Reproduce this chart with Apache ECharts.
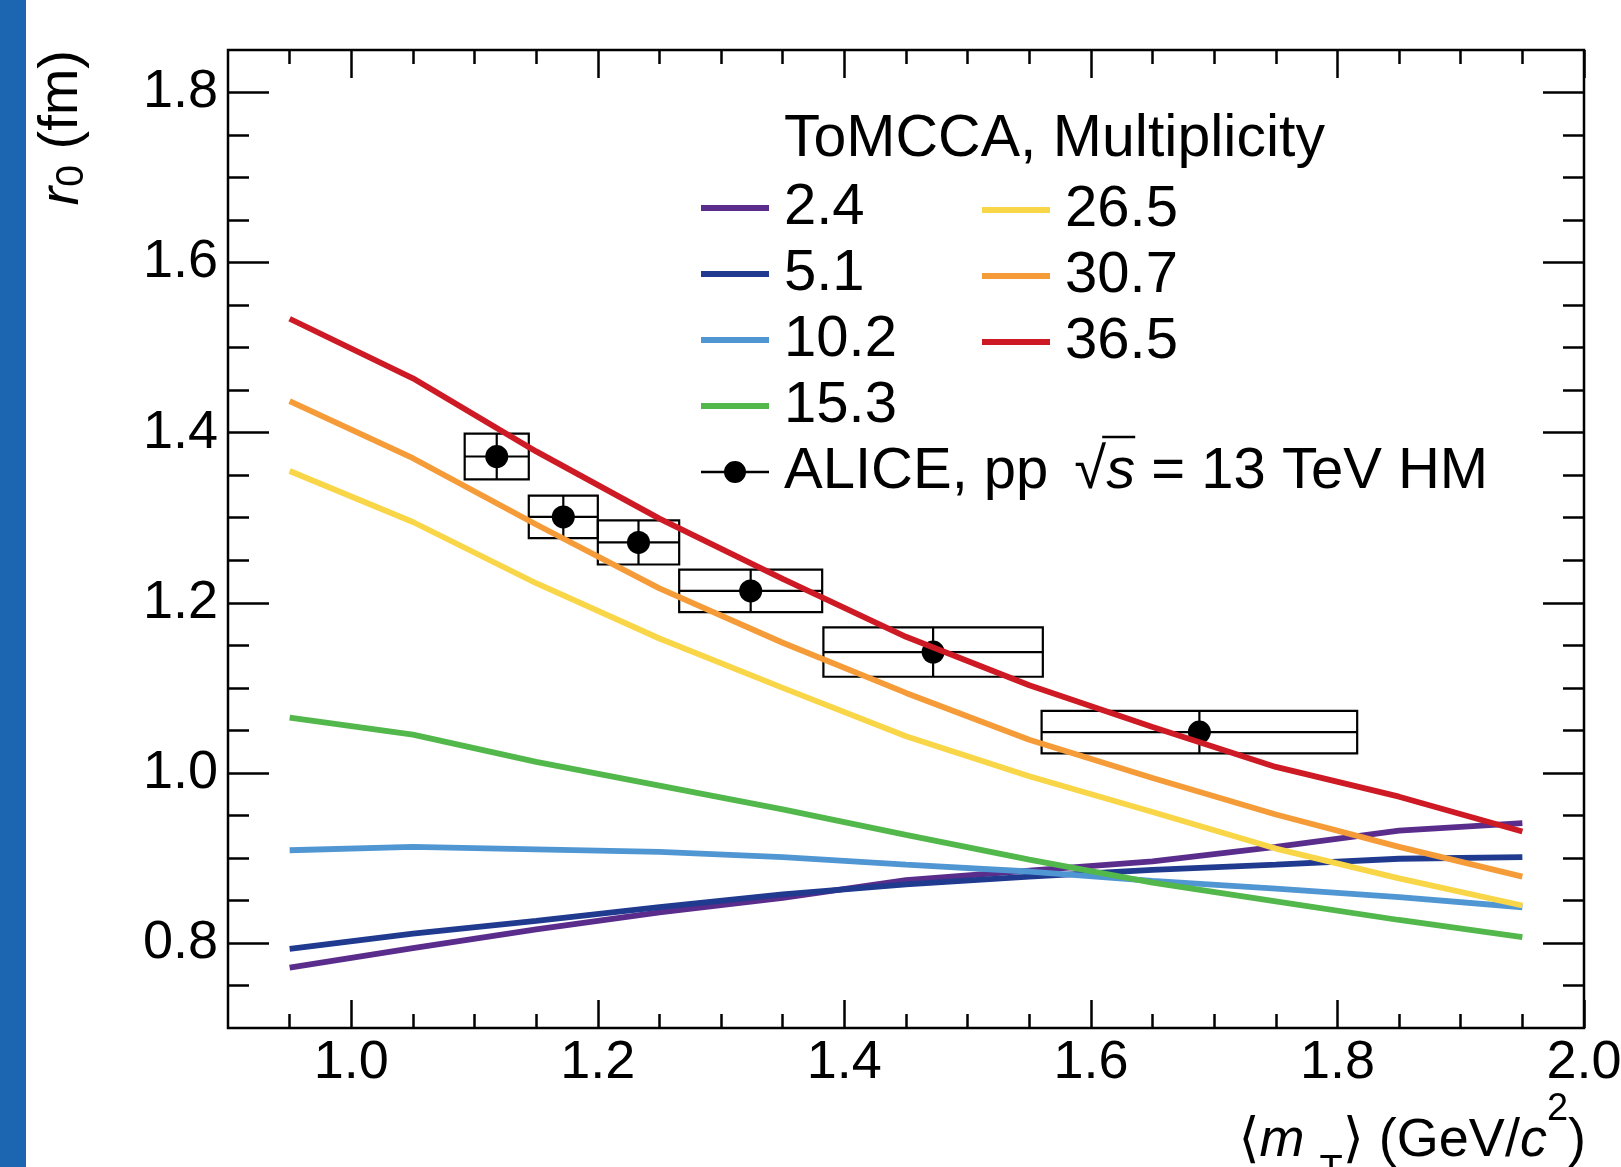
<!DOCTYPE html>
<html>
<head>
<meta charset="utf-8">
<script src="https://cdn.jsdelivr.net/npm/echarts@6/dist/echarts.min.js"></script>
<style>html,body{margin:0;padding:0;background:#fff;}#c{width:1621px;height:1167px;}</style>
</head>
<body>
<div id="c"></div>
<script>
// ---------------- data ----------------
const mtGrid = [0.95, 1.05, 1.15, 1.25, 1.35, 1.45, 1.55, 1.65, 1.75, 1.85, 1.95];
const r0Mult2p4  = [0.771, 0.794, 0.816, 0.836, 0.853, 0.874, 0.885, 0.896, 0.913, 0.932, 0.941];
const r0Mult5p1  = [0.793, 0.811, 0.826, 0.842, 0.857, 0.869, 0.878, 0.886, 0.892, 0.899, 0.901];
const r0Mult10p2 = [0.909, 0.913, 0.910, 0.907, 0.901, 0.892, 0.884, 0.873, 0.864, 0.854, 0.842];
const r0Mult15p3 = [1.065, 1.045, 1.013, 0.985, 0.957, 0.927, 0.898, 0.871, 0.849, 0.827, 0.807];
const r0Mult26p5 = [1.355, 1.295, 1.223, 1.158, 1.100, 1.043, 0.996, 0.954, 0.911, 0.876, 0.844];
const r0Mult30p7 = [1.437, 1.370, 1.292, 1.217, 1.153, 1.094, 1.039, 0.994, 0.951, 0.913, 0.878];
const r0Mult36p5 = [1.534, 1.464, 1.378, 1.299, 1.228, 1.160, 1.103, 1.054, 1.007, 0.972, 0.931];
const multLabels = ['2.4', '5.1', '10.2', '15.3', '26.5', '30.7', '36.5'];

const aliceMt        = [1.118, 1.172, 1.233, 1.324, 1.472, 1.688];
const aliceR0        = [1.372, 1.301, 1.271, 1.214, 1.142, 1.048];
const aliceMtHalfBin = [0.026, 0.028, 0.033, 0.058, 0.089, 0.128];
const aliceSyst      = [0.027, 0.025, 0.026, 0.025, 0.029, 0.025];
const aliceStat      = [0.027, 0.025, 0.026, 0.025, 0.029, 0.025];
const aliceLabel = 'ALICE, pp \u221As = 13 TeV HM';

const xMajorTicks = [1.0, 1.2, 1.4, 1.6, 1.8, 2.0];
const xMinorTicks = [0.95, 1.05, 1.1, 1.15, 1.25, 1.3, 1.35, 1.45, 1.5, 1.55, 1.65, 1.7, 1.75, 1.85, 1.9, 1.95];
const yMajorTicks = [0.8, 1.0, 1.2, 1.4, 1.6, 1.8];
const yMinorTicks = [0.75, 0.85, 0.9, 0.95, 1.05, 1.1, 1.15, 1.25, 1.3, 1.35, 1.45, 1.5, 1.55, 1.65, 1.7, 1.75];

// ---------------- style ----------------
const curveValues = [r0Mult2p4, r0Mult5p1, r0Mult10p2, r0Mult15p3, r0Mult26p5, r0Mult30p7, r0Mult36p5];
const curveColors = ['#5a2d8c', '#1f3a8e', '#5096d3', '#52b84b', '#f9d648', '#f59b38', '#cd1a24'];
const FONT = 'Liberation Sans, Arial, Helvetica, sans-serif';
const GRID = {left: 228, top: 50, width: 1356, height: 978};
const LINE_W = 2.5;
const LEG_FS = 58;
const SQRT_GAP = 26;

const chart = echarts.init(document.getElementById('c'), null, {renderer: 'canvas', width: 1621, height: 1167});

function makeXAxis(pos, ticks, len, labels) {
  return {
    type: 'value', min: 0.9, max: 2.0, position: pos, gridIndex: 0,
    axisLine: {show: false},
    splitLine: {show: false},
    axisTick: {show: true, inside: true, length: len, customValues: ticks, lineStyle: {color: '#000', width: LINE_W}},
    axisLabel: labels ? {show: true, customValues: ticks, formatter: v => Number(v).toFixed(1), fontSize: 54, color: '#000', fontFamily: FONT, margin: 8}
                      : {show: false}
  };
}
function makeYAxis(pos, ticks, len, labels) {
  return {
    type: 'value', min: 0.7, max: 1.85, position: pos, gridIndex: 0,
    axisLine: {show: false},
    splitLine: {show: false},
    axisTick: {show: true, inside: true, length: len, customValues: ticks, lineStyle: {color: '#000', width: LINE_W}},
    axisLabel: labels ? {show: true, customValues: ticks, formatter: v => Number(v).toFixed(1), fontSize: 54, color: '#000', fontFamily: FONT, margin: 10}
                      : {show: false}
  };
}

const series = [];
// ALICE error boxes + bars
series.push({
  type: 'custom',
  name: aliceLabel + ' boxes',
  xAxisIndex: 0, yAxisIndex: 0,
  z: 2,
  encode: {x: 0, y: 1},
  data: aliceMt.map((m, i) => [m, aliceR0[i], aliceMtHalfBin[i], aliceSyst[i], aliceStat[i]]),
  renderItem: (params, api) => {
    const x = api.value(0), y = api.value(1), xe = api.value(2), sy = api.value(3), st = api.value(4);
    const p1 = api.coord([x - xe, y + sy]);
    const p2 = api.coord([x + xe, y - sy]);
    const c = api.coord([x, y]);
    const s1 = api.coord([x, y + st]);
    const s2 = api.coord([x, y - st]);
    const st2 = {stroke: '#000', lineWidth: 2.2, fill: null};
    return {
      type: 'group',
      children: [
        {type: 'rect', shape: {x: p1[0], y: p1[1], width: p2[0] - p1[0], height: p2[1] - p1[1]}, style: {stroke: '#000', lineWidth: 2.2, fill: 'none'}},
        {type: 'line', shape: {x1: p1[0], y1: c[1], x2: p2[0], y2: c[1]}, style: st2},
        {type: 'line', shape: {x1: c[0], y1: s1[1], x2: c[0], y2: s2[1]}, style: st2}
      ]
    };
  }
});
series.push({
  type: 'scatter',
  name: aliceLabel,
  xAxisIndex: 0, yAxisIndex: 0,
  z: 3,
  symbol: 'circle',
  symbolSize: 23,
  itemStyle: {color: '#000', opacity: 1},
  data: aliceMt.map((m, i) => [m, aliceR0[i]])
});
curveValues.forEach((vals, k) => {
  series.push({
    type: 'line',
    name: multLabels[k],
    xAxisIndex: 0, yAxisIndex: 0,
    z: 4 + k,
    symbol: 'none',
    showSymbol: false,
    color: curveColors[k],
    itemStyle: {color: curveColors[k]},
    lineStyle: {color: curveColors[k], width: 5.8},
    data: mtGrid.map((m, i) => [m, vals[i]])
  });
});

const legendText = {fontSize: LEG_FS, color: '#000', fontFamily: FONT, lineHeight: 66, padding: [0, 0, 0, 10]};
const aliceIcon = 'path://M0,10 L68,10 L68,12.4 L0,12.4 Z M23,11.2 A11,11 0 1 1 45,11.2 A11,11 0 1 1 23,11.2 Z';

const option = {
  animation: false,
  backgroundColor: '#fff',
  textStyle: {fontFamily: FONT},
  title: {
    text: 'ToMCCA, Multiplicity',
    left: 784, top: 110, padding: 0,
    textStyle: {fontSize: 59, fontWeight: 'normal', color: '#000', fontFamily: FONT}
  },
  grid: Object.assign({show: true, borderColor: '#000', borderWidth: LINE_W, backgroundColor: 'transparent', containLabel: false, outerBoundsMode: 'none'}, GRID),
  xAxis: [
    makeXAxis('bottom', xMajorTicks, 28, true),
    makeXAxis('bottom', xMinorTicks, 14, false),
    makeXAxis('top', xMajorTicks, 28, false),
    makeXAxis('top', xMinorTicks, 14, false)
  ],
  yAxis: [
    makeYAxis('left', yMajorTicks, 41, true),
    makeYAxis('left', yMinorTicks, 21, false),
    makeYAxis('right', yMajorTicks, 41, false),
    makeYAxis('right', yMinorTicks, 21, false)
  ],
  legend: [
    {
      orient: 'vertical', left: 701, top: 175, padding: 0, itemGap: 0,
      itemWidth: 68, itemHeight: 6, icon: 'rect', selectedMode: false,
      data: multLabels.slice(0, 4), textStyle: legendText
    },
    {
      orient: 'vertical', left: 982, top: 177, padding: 0, itemGap: 0,
      itemWidth: 68, itemHeight: 6, icon: 'rect', selectedMode: false,
      data: multLabels.slice(4), textStyle: legendText
    },
    {
      orient: 'vertical', left: 701, top: 439, padding: 0, itemGap: 0,
      itemWidth: 68, itemHeight: 22, selectedMode: false,
      data: [{name: aliceLabel, icon: aliceIcon}],
      formatter: () => '{a|ALICE, pp}{g| }{a|\u221A}{s|s}{a| = 13 TeV HM}',
      textStyle: Object.assign({}, legendText, {
        rich: {
          a: {fontSize: LEG_FS, color: '#000', fontFamily: FONT, lineHeight: 66},
          g: {fontSize: LEG_FS, color: '#000', fontFamily: FONT, lineHeight: 66, width: SQRT_GAP},
          s: {fontSize: LEG_FS, color: '#000', fontFamily: FONT, fontStyle: 'italic', lineHeight: 66}
        }
      })
    }
  ],
  series: series,
  graphic: [
    {type: 'rect', left: 0, top: 0, shape: {x: 0, y: 0, width: 26, height: 1167}, style: {fill: '#1b65b1'}, z: 100},
    {
      type: 'group', x: 32, y: 50, rotation: Math.PI / 2, z: 100,
      children: [{
        type: 'text', x: 0, y: 0,
        style: {
          text: '{i|r}{s|0}{n| (fm)}',
          align: 'right', verticalAlign: 'top',
          rich: {
            i: {fontSize: 56, fontStyle: 'italic', fontFamily: FONT, fill: '#000', lineHeight: 60},
            s: {fontSize: 39, fontFamily: FONT, fill: '#000', lineHeight: 14, verticalAlign: 'bottom'},
            n: {fontSize: 56, fontFamily: FONT, fill: '#000', lineHeight: 60}
          }
        }
      }]
    },
    {
      type: 'text', x: 1586, y: 1091, z: 100,
      style: {
        text: '{n|\u27E8}{i|m}{n| }{t|T}{n|\u27E9 (GeV/}{i|c}{u|2}{n|)}',
        align: 'right', verticalAlign: 'top',
        rich: {
          n: {fontSize: 54, fontFamily: FONT + ', DejaVu Sans', fill: '#000', lineHeight: 100},
          i: {fontSize: 54, fontStyle: 'italic', fontFamily: FONT, fill: '#000', lineHeight: 100},
          t: {fontSize: 38, fontFamily: FONT, fill: '#000', lineHeight: 33, verticalAlign: 'bottom'},
          u: {fontSize: 38, fontFamily: FONT, fill: '#000', lineHeight: 66, verticalAlign: 'top'}
        }
      }
    }
  ]
};
chart.setOption(option);

// overline for the square-root in the ALICE legend entry
(function () {
  const ctx = document.createElement('canvas').getContext('2d');
  ctx.font = LEG_FS + 'px Liberation Sans';
  const w1 = ctx.measureText('ALICE, pp').width + SQRT_GAP;
  const w2 = ctx.measureText('\u221A').width;
  ctx.font = 'italic ' + LEG_FS + 'px Liberation Sans';
  const w3 = ctx.measureText('s').width;
  const x0 = 701 + 68 + 5 + 10 + w1 + w2 - 4;
  const yc = 439 + 33;
  chart.setOption({graphic: option.graphic.concat([{
    type: 'line', z: 100,
    shape: {x1: x0, y1: yc - 35, x2: x0 + w3 + 4, y2: yc - 35},
    style: {stroke: '#000', lineWidth: 2.5}
  }])});
})();
</script>
</body>
</html>
